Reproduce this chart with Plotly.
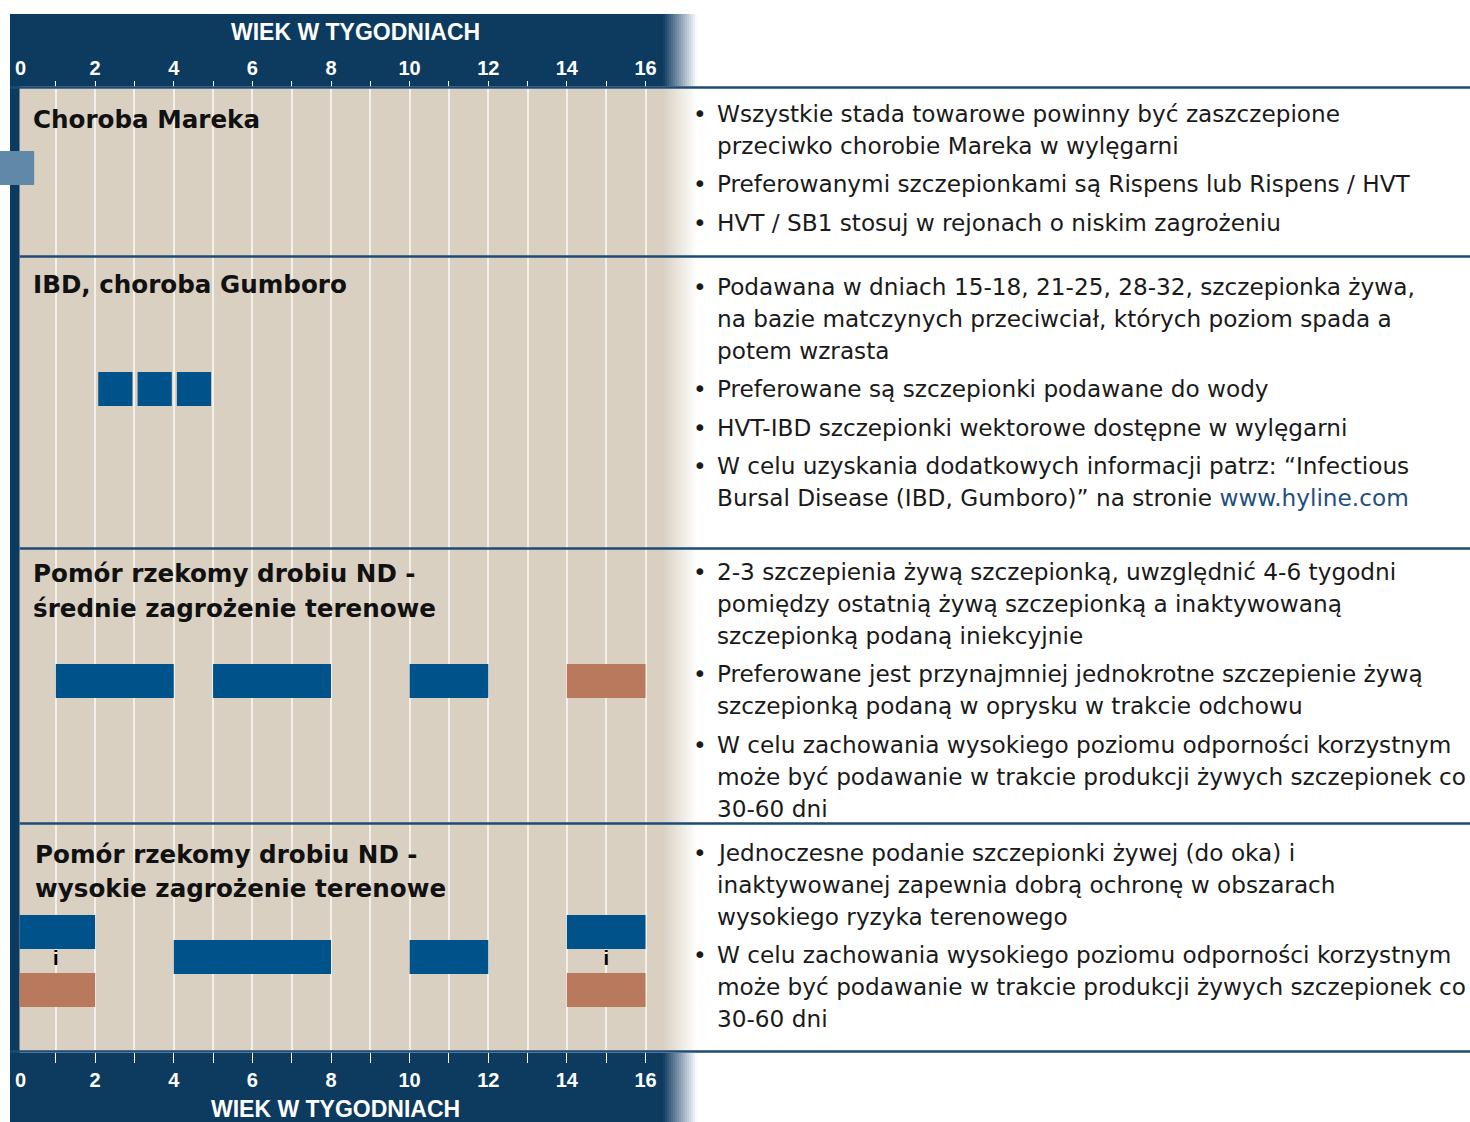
import plotly.graph_objects as go

W, H = 1470, 1122

# ---------------- data ----------------
WEEKS = list(range(0, 17))
WEEK_LABELS = ["0", "", "2", "", "4", "", "6", "", "8", "", "10", "", "12", "", "14", "", "16"]
AXIS_TITLE = "WIEK W TYGODNIACH"

DISEASES = [
    ["Choroba Mareka"],
    ["IBD, choroba Gumboro"],
    ["Pomór rzekomy drobiu ND -", "średnie zagrożenie terenowe"],
    ["Pomór rzekomy drobiu ND -", "wysokie zagrożenie terenowe"],
]

# vaccinations (weeks of age)
VAC_DISEASE = [0, 1, 1, 1, 2, 2, 2, 2, 3, 3, 3, 3, 3, 3]
VAC_LANE = ["mid", "mid", "mid", "mid", "mid", "mid", "mid", "mid",
            "upper", "lower", "centre", "centre", "upper", "lower"]
VAC_START = [-0.42, 2.08, 3.08, 4.08, 1, 5, 10, 14, 0, 0, 4, 10, 14, 14]
VAC_END = [0.45, 2.95, 3.95, 4.95, 4, 8, 12, 16, 2, 2, 8, 12, 16, 16]
VAC_TYPE = ["hatchery", "live", "live", "live", "live", "live", "live", "inactivated",
            "live", "inactivated", "live", "live", "live", "inactivated"]

INJECTION_WEEK = [1, 15]
INJECTION_LABEL = ["i", "i"]

LINK = "www.hyline.com"
NOTES = [
    [
        ["Wszystkie stada towarowe powinny być zaszczepione",
         "przeciwko chorobie Mareka w wylęgarni"],
        ["Preferowanymi szczepionkami są Rispens lub Rispens / HVT"],
        ["HVT / SB1 stosuj w rejonach o niskim zagrożeniu"],
    ],
    [
        ["Podawana w dniach 15-18, 21-25, 28-32, szczepionka żywa,",
         "na bazie matczynych przeciwciał, których poziom spada a",
         "potem wzrasta"],
        ["Preferowane są szczepionki podawane do wody"],
        ["HVT-IBD szczepionki wektorowe dostępne w wylęgarni"],
        ["W celu uzyskania dodatkowych informacji patrz: “Infectious",
         "Bursal Disease (IBD, Gumboro)” na stronie " + LINK],
    ],
    [
        ["2-3 szczepienia żywą szczepionką, uwzględnić 4-6 tygodni",
         "pomiędzy ostatnią żywą szczepionką a inaktywowaną",
         "szczepionką podaną iniekcyjnie"],
        ["Preferowane jest przynajmniej jednokrotne szczepienie żywą",
         "szczepionką podaną w oprysku w trakcie odchowu"],
        ["W celu zachowania wysokiego poziomu odporności korzystnym",
         "może być podawanie w trakcie produkcji żywych szczepionek co",
         "30-60 dni"],
    ],
    [
        ["Jednoczesne podanie szczepionki żywej (do oka) i",
         "inaktywowanej zapewnia dobrą ochronę w obszarach",
         "wysokiego ryzyka terenowego"],
        ["W celu zachowania wysokiego poziomu odporności korzystnym",
         "może być podawanie w trakcie produkcji żywych szczepionek co",
         "30-60 dni"],
    ],
]

# ---------------- styling / layout geometry ----------------
NAVY = "#0d3b60"
LINE_NAVY = "#1d4b74"
BEIGE = (217, 208, 194)
NAVY_RGB = (13, 59, 96)
TYPE_COLOR = {"live": "#00538a", "inactivated": "#b8795d", "hatchery": "#5f89a7"}
LINK_COLOR = "#1f4f80"

X0_PX, PX_PER_WEEK = 16.5, 39.3125   # where week 0 sits, scale
PLOT_LEFT, PLOT_RIGHT = 19.6, 700.0
TOP_Y, BOT_Y = 88.5, 1051.0
FADE_START, FADE_END = 663.0, 697.0

ROW_LINES = [87.5, 256.5, 548.5, 823.5, 1051.5]
LANE_Y = {0: {"mid": 168}, 1: {"mid": 389}, 2: {"mid": 681},
          3: {"upper": 932, "centre": 957, "lower": 990}}
INJ_LABEL_Y = 960
BAR_THICK = 34
HEAD_POS = [[(31, 119)], [(31, 284)], [(31, 573), (31, 608)], [(33, 854), (33, 888)]]
NOTE_FIRST_Y = [113, 286, 571, 852]
LINE_GAP, BULLET_GAP = 32, 38.5
TEXT_X, BULLET_X = 715, 700

BODY_FONT = "DejaVu Sans"
HEAD_FONT = "Liberation Sans, Arial"


def px(x):
    return x / W


def py(y):
    return 1 - y / H


def wk(x_px):
    return (x_px - X0_PX) / PX_PER_WEEK


fig = go.Figure()

# bars (main axis clips at beige edge; hatchery bar on the wider overlay subplot)
for vtype in ["live", "inactivated", "hatchery"]:
    idx = [i for i, t in enumerate(VAC_TYPE) if t == vtype]
    fig.add_trace(go.Bar(
        orientation="h",
        y=[LANE_Y[VAC_DISEASE[i]][VAC_LANE[i]] for i in idx],
        base=[VAC_START[i] for i in idx],
        x=[VAC_END[i] - VAC_START[i] for i in idx],
        width=BAR_THICK,
        marker=dict(color=TYPE_COLOR[vtype], line=dict(width=0)),
        showlegend=False, hoverinfo="skip",
        xaxis="x2" if vtype == "hatchery" else "x",
        yaxis="y2" if vtype == "hatchery" else "y",
    ))

fig.add_trace(go.Scatter(
    x=INJECTION_WEEK, y=[INJ_LABEL_Y] * len(INJECTION_WEEK), text=INJECTION_LABEL,
    mode="text", textfont=dict(family=HEAD_FONT, size=20, color="#000000", weight="bold"),
    showlegend=False, hoverinfo="skip", xaxis="x", yaxis="y"))
fig.add_trace(go.Scatter(x=[], y=[], xaxis="x3", yaxis="y", showlegend=False))

shapes = []


def rect(x0, x1, y0, y1, color, layer="below"):
    shapes.append(dict(type="rect", xref="paper", yref="paper", x0=px(x0), x1=px(x1),
                       y0=py(y1), y1=py(y0), fillcolor=color, line=dict(width=0), layer=layer))


def fade(y0, y1, rgb):
    n = 17
    step = (FADE_END - FADE_START) / n
    for k in range(n):
        t = (k + 0.5) / n
        c = tuple(round(v + (255 - v) * t) for v in rgb)
        rect(FADE_START + k * step, FADE_START + (k + 1) * step + 0.4, y0, y1,
             "rgb(%d,%d,%d)" % c)


rect(10, FADE_START, 14, 86.5, NAVY)
rect(10, FADE_START, 1053, H, NAVY)
rect(PLOT_LEFT, FADE_START, TOP_Y, BOT_Y, "rgb(%d,%d,%d)" % BEIGE)
rect(10, PLOT_LEFT, 14, 1053, NAVY)
fade(14, 86.5, NAVY_RGB)
fade(1053, H, NAVY_RGB)
fade(TOP_Y, BOT_Y, BEIGE)
for i, yl in enumerate(ROW_LINES):
    shapes.append(dict(type="line", xref="paper", yref="paper",
                       x0=px(10 if i in (0, 4) else PLOT_LEFT), x1=1,
                       y0=py(yl), y1=py(yl), line=dict(color=LINE_NAVY, width=2.5),
                       layer="above"))

annotations = []
tick_font = dict(family=HEAD_FONT, size=20, color="white", weight="bold")
title_font = dict(family=HEAD_FONT, size=23, color="white", weight="bold")
annotations.append(dict(text=AXIS_TITLE, xref="paper", yref="paper", x=px(355), y=py(32),
                        showarrow=False, font=title_font, xanchor="center", yanchor="middle"))
annotations.append(dict(text=AXIS_TITLE, xref="paper", yref="paper", x=px(335), y=py(1109),
                        showarrow=False, font=title_font, xanchor="center", yanchor="middle"))
for yy in (68, 1080):
    annotations.append(dict(text=WEEK_LABELS[0], xref="x2", yref="paper", x=WEEKS[0], y=py(yy),
                            xshift=4, showarrow=False, font=tick_font,
                            xanchor="center", yanchor="middle"))

for r, lines in enumerate(DISEASES):
    for line, (hx, hy) in zip(lines, HEAD_POS[r]):
        annotations.append(dict(text=line, xref="paper", yref="paper", x=px(hx), y=py(hy),
                                showarrow=False, xanchor="left", yanchor="middle",
                                font=dict(family=BODY_FONT, size=24.6, color="#111111",
                                          weight="bold")))

body_font = dict(family=BODY_FONT, size=23.2, color="#1a1a1a")
for r, bullets in enumerate(NOTES):
    y = NOTE_FIRST_Y[r]
    for b_i, bullet in enumerate(bullets):
        if b_i > 0:
            y += BULLET_GAP
        for l_i, line in enumerate(bullet):
            if l_i > 0:
                y += LINE_GAP
            if l_i == 0:
                annotations.append(dict(text="•", xref="paper", yref="paper", x=px(BULLET_X),
                                        y=py(y), showarrow=False, xanchor="center",
                                        yanchor="middle", font=body_font))
            txt = line.replace(LINK, '<span style="color:%s">%s</span>' % (LINK_COLOR, LINK))
            annotations.append(dict(text=txt, xref="paper", yref="paper", x=px(TEXT_X),
                                    y=py(y), showarrow=False, xanchor="left",
                                    yanchor="middle", font=body_font))

x_range = [wk(PLOT_LEFT), wk(PLOT_RIGHT)]
y_dom = [py(BOT_Y), py(TOP_Y)]
fig.update_layout(
    width=W, height=H, margin=dict(l=0, r=0, t=0, b=0),
    paper_bgcolor="white", plot_bgcolor="rgba(0,0,0,0)",
    barmode="overlay", hovermode=False, showlegend=False,
    xaxis=dict(domain=[px(PLOT_LEFT), px(PLOT_RIGHT)], range=x_range, anchor="y",
               tickmode="array", tickvals=WEEKS, ticktext=WEEK_LABELS,
               ticks="outside", ticklen=11, tickwidth=1.2, tickcolor="white",
               tickfont=tick_font, ticklabelstandoff=0,
               showgrid=True, gridcolor="#f3f0ea", gridwidth=1.5,
               zeroline=False, showline=False, fixedrange=True),
    xaxis3=dict(overlaying="x", side="top", range=x_range, anchor="y",
                tickmode="array", tickvals=WEEKS, ticktext=WEEK_LABELS,
                ticks="outside", ticklen=7, tickwidth=1.2, tickcolor="white",
                tickfont=tick_font, ticklabelstandoff=-2,
                showgrid=False, zeroline=False, showline=False),
    yaxis=dict(domain=y_dom, range=[BOT_Y, TOP_Y], anchor="x",
               showgrid=False, zeroline=False, showticklabels=False, ticks=""),
    xaxis2=dict(domain=[0, px(PLOT_RIGHT)], range=[wk(0), wk(PLOT_RIGHT)], anchor="y2",
                visible=False),
    yaxis2=dict(domain=y_dom, range=[BOT_Y, TOP_Y], anchor="x2", visible=False),
    shapes=shapes, annotations=annotations,
)

fig.write_html("out.html", config={"displayModeBar": False},
               post_script="document.body.style.margin='0';document.body.style.overflow='hidden';")
